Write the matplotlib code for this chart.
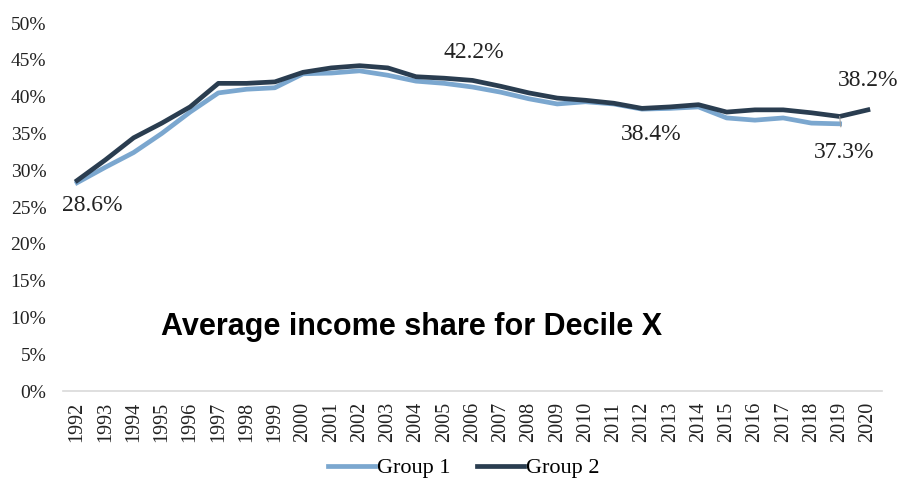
import matplotlib
matplotlib.use("Agg")
import matplotlib.pyplot as plt
from matplotlib.ticker import PercentFormatter

# values (percent)
years = list(range(1992, 2021))
group1 = [28.3, 30.4, 32.4, 35.0, 37.9, 40.5, 41.0, 41.2, 43.1, 43.2,
          43.5, 42.9, 42.1, 41.8, 41.3, 40.6, 39.7, 39.0, 39.3, 39.0,
          38.3, 38.4, 38.6, 37.1, 36.8, 37.1, 36.4, 36.3]
group2 = [28.6, 31.4, 34.4, 36.4, 38.6, 41.8, 41.8, 42.0, 43.3, 43.9,
          44.2, 43.9, 42.7, 42.5, 42.2, 41.4, 40.5, 39.8, 39.5, 39.1,
          38.4, 38.6, 38.9, 37.9, 38.2, 38.2, 37.8, 37.3, 38.2]
series_names = ["Group 1", "Group 2"]
colors = ["#7ba7cf", "#2a3d50"]
title = "Average income share for Decile X"

# labelled points: (year, value, offset in points)
labels = [(1992, 28.6, (11, -18)),
          (2006, 42.2, (1, 20)),
          (2012, 38.4, (7, -19)),
          (2020, 38.2, (0, 21))]
leader_label = (2019, 37.3, (3, -26))

serif = "Liberation Serif"

fig = plt.figure(figsize=(8.99, 4.82), dpi=100)
ax = fig.add_axes([63 / 899, 1 - 391 / 482, 819 / 899, 368 / 482])

x1 = list(range(len(group1)))
x2 = list(range(len(group2)))
ax.plot(x1, group1, color=colors[0], lw=3.4, label=series_names[0],
        solid_joinstyle="round", zorder=2)
ax.plot(x2, group2, color=colors[1], lw=3.4, label=series_names[1],
        solid_joinstyle="round", zorder=3)

ax.set_xlim(-0.5, len(years) - 0.5)
ax.set_ylim(0, 50)
ax.set_yticks(range(0, 51, 5))
ax.yaxis.set_major_formatter(PercentFormatter(decimals=0))
ax.set_xticks(range(len(years)))
ax.set_xticklabels([str(y) for y in years], rotation=90)

for side in ["top", "right", "left"]:
    ax.spines[side].set_visible(False)
ax.spines["bottom"].set_color("#d9d9d9")
ax.spines["bottom"].set_linewidth(1.2)
ax.tick_params(axis="y", length=0, pad=12, labelsize=14, labelcolor="#222222")
ax.tick_params(axis="x", length=0, pad=8, labelsize=14.5, labelcolor="#222222")
for t in ax.get_xticklabels() + ax.get_yticklabels():
    t.set_fontfamily(serif)

for yr, val, off in labels:
    ax.annotate(f"{val:.1f}%", xy=(years.index(yr), val), xytext=off,
                textcoords="offset points", ha="center", va="center",
                fontsize=17, family=serif, color="#222222")

yr, val, off = leader_label
ax.annotate(f"{val:.1f}%", xy=(years.index(yr), val), xytext=off,
            textcoords="offset points", ha="center", va="center",
            fontsize=17, family=serif, color="#222222",
            arrowprops=dict(arrowstyle="-", color="#a0a0a0", lw=0.8,
                            shrinkA=9, shrinkB=0))

ax.text(0.425, 0.152, title, transform=ax.transAxes, ha="center",
        va="baseline", fontsize=22, fontweight="bold",
        family="Liberation Sans", color="black")

fig.legend(loc="center", bbox_to_anchor=(464 / 899, 1 - 468 / 482), ncol=2,
           frameon=False, prop={"family": serif, "size": 16},
           handlelength=2.1, handletextpad=0.1, columnspacing=1.2)

fig.savefig("out.png", dpi=100)
